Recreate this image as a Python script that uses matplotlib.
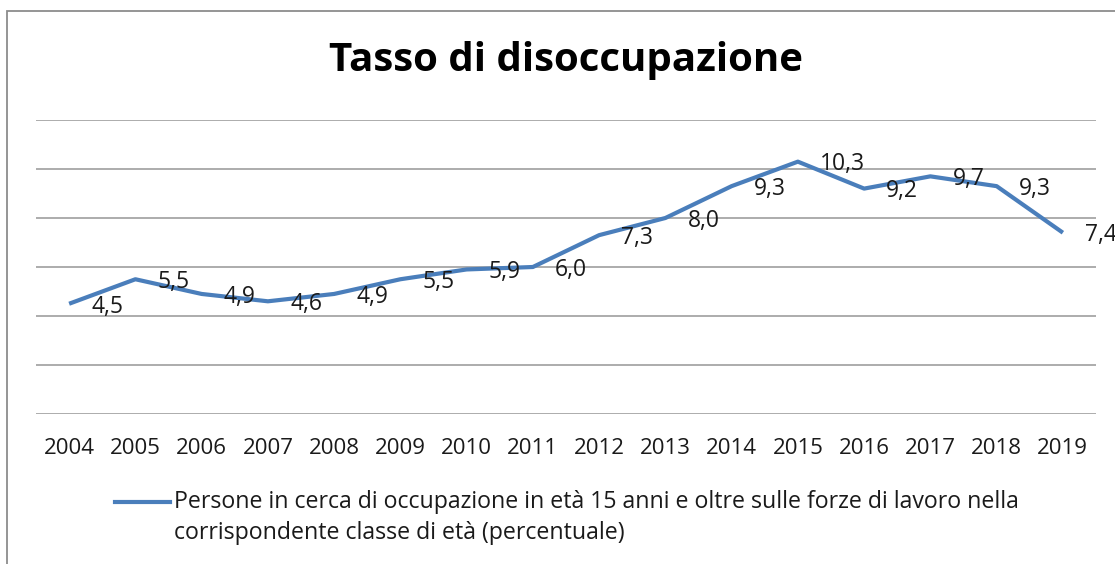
import matplotlib
matplotlib.use("Agg")
import matplotlib.pyplot as plt
from matplotlib.lines import Line2D
from matplotlib.patches import Rectangle

years = ["2004", "2005", "2006", "2007", "2008", "2009", "2010", "2011",
         "2012", "2013", "2014", "2015", "2016", "2017", "2018", "2019"]
rate = [4.5, 5.5, 4.9, 4.6, 4.9, 5.5, 5.9, 6.0,
        7.3, 8.0, 9.3, 10.3, 9.2, 9.7, 9.3, 7.4]
title = "Tasso di disoccupazione"
series_label_lines = ["Persone in cerca di occupazione in età 15 anni e oltre sulle forze di lavoro nella",
                      "corrispondente classe di età (percentuale)"]

W, H = 1115, 564
DPI = 100
FONT = "Open Sans"
LINE_COLOR = "#4a7ebb"
GRID_COLOR = "#a6a6a6"
TEXT_COLOR = "#1a1a1a"

fig = plt.figure(figsize=(W / DPI, H / DPI), dpi=DPI)
plt.rcParams["font.family"] = [FONT, "DejaVu Sans"]

def fx(px):
    return px / W

def fy(py):
    return 1 - py / H

# plot area (pixels): x 36..1096, y 120..414
ax = fig.add_axes([fx(36), fy(414), fx(1096) - fx(36), fy(120) - fy(414)])
x = list(range(len(years)))
ax.plot(x, rate, color=LINE_COLOR, lw=3.0, solid_joinstyle="round", solid_capstyle="butt", zorder=3)
ax.set_xlim(-0.5, len(years) - 0.5)
ax.set_ylim(0, 12)
ax.set_yticks([0, 2, 4, 6, 8, 10, 12])
ax.yaxis.grid(True, color=GRID_COLOR, lw=1.3)
ax.set_axisbelow(True)
for s in ax.spines.values():
    s.set_visible(False)
ax.tick_params(axis="y", left=False, labelleft=False)
ax.set_xticks(x)
ax.set_xticklabels(years, fontsize=16, color=TEXT_COLOR)
ax.tick_params(axis="x", length=0, pad=17)

for xi, v in zip(x, rate):
    ax.annotate(f"{v:.1f}".replace(".", ","), (xi, v), xytext=(16, -2), textcoords="offset points",
                ha="left", va="center", fontsize=16.5, color=TEXT_COLOR, annotation_clip=False, zorder=4)

# title
fig.text(fx(566), fy(61), title, ha="center", va="center", fontsize=29, fontweight="bold", color="black")

# legend
fig.add_artist(Line2D([fx(115), fx(170)], [fy(502), fy(502)], color=LINE_COLOR, lw=3.0,
                      transform=fig.transFigure))
for i, line in enumerate(series_label_lines):
    fig.text(fx(174), fy(502 + 31 * i), line, ha="left", va="center", fontsize=16.7, color=TEXT_COLOR)

# chart border (cropped at right and bottom)
fig.add_artist(Rectangle((fx(7), -0.1), 1.2, fy(11) + 0.1, transform=fig.transFigure,
                         fill=False, edgecolor="#8c8c8c", lw=1.3))

fig.savefig("out.png", dpi=DPI)
